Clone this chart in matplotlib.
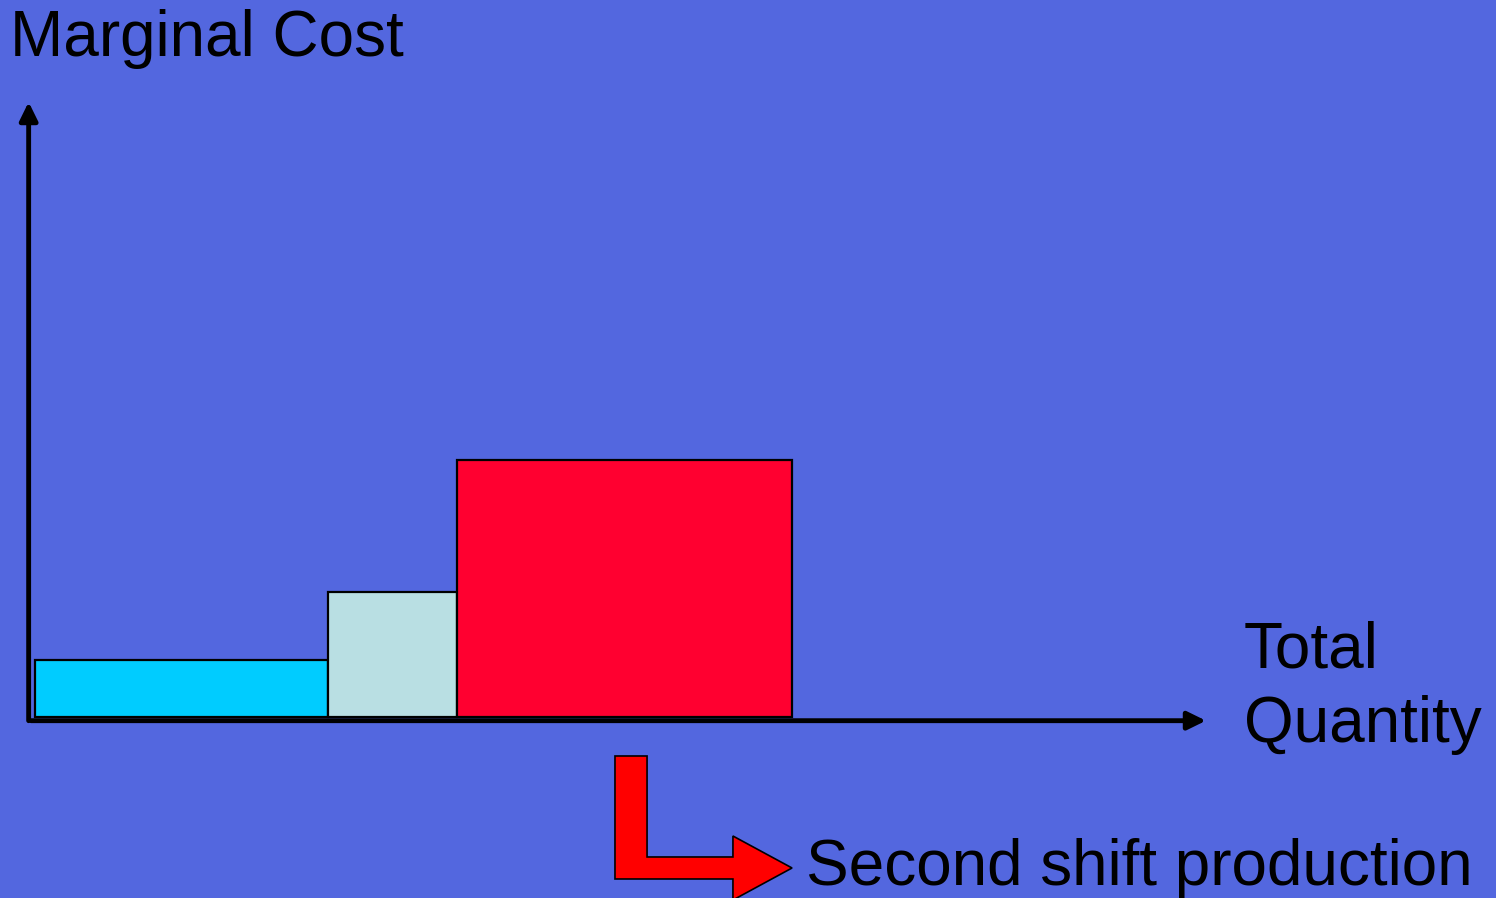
import matplotlib
matplotlib.use("Agg")
import matplotlib.pyplot as plt
from matplotlib.patches import Polygon

plt.rcParams['font.family'] = ['Liberation Sans', 'DejaVu Sans']

# step chart: quantity breaks and the marginal cost of each step
q_left = [0.34, 25.28, 36.26]
q_width = [24.94, 10.98, 28.51]
cost = [9.3, 20.3, 41.8]
colors = ['#00CCFF', '#B9DFE3', '#FF0030']

# L shaped pointer below the red step (data units)
arrow_x = [49.70, 52.43, 52.43, 59.74, 59.74, 64.77, 59.74, 59.74, 49.70]
arrow_y = [-6.34, -6.34, -22.76, -22.76, -19.35, -24.55, -29.76, -26.34, -26.34]

bg = '#5367DF'
W, H = 1496, 898
fig = plt.figure(figsize=(W / 100, H / 100), dpi=100, facecolor=bg)
ax = fig.add_axes([31 / W, (H - 717) / H, 1175 / W, 615 / H])
ax.set_xlim(0, 100)
ax.set_ylim(0, 100)
ax.axis('off')

ax.bar(q_left, cost, width=q_width, align='edge', color=colors,
       edgecolor='black', linewidth=1.6, clip_on=False, zorder=3)

# axes with arrow heads
style = '-|>,head_length=0.55,head_width=0.27'
ax.annotate('', xy=(100, -0.6), xytext=(0, -0.6),
            arrowprops=dict(arrowstyle=style, color='black', lw=3.5,
                            mutation_scale=20, shrinkA=0, shrinkB=0),
            annotation_clip=False)
ax.annotate('', xy=(-0.2, 100), xytext=(-0.2, -0.6),
            arrowprops=dict(arrowstyle=style, color='black', lw=3.5,
                            mutation_scale=20, shrinkA=0, shrinkB=0),
            annotation_clip=False)

ax.add_patch(Polygon(list(zip(arrow_x, arrow_y)), closed=True,
                     facecolor='#FF0000', edgecolor='black', lw=1.2,
                     clip_on=False, zorder=4))

fs = 46
fig.text(10 / W, 1 - 56 / H, 'Marginal Cost', fontsize=fs, va='baseline', ha='left')
fig.text(1244 / W, 1 - 667 / H, 'Total', fontsize=fs, va='baseline', ha='left')
fig.text(1244 / W, 1 - 742 / H, 'Quantity', fontsize=fs, va='baseline', ha='left')
fig.text(806 / W, 1 - 885 / H, 'Second shift production', fontsize=fs,
         va='baseline', ha='left')

fig.savefig('out.png', dpi=100, facecolor=bg)
